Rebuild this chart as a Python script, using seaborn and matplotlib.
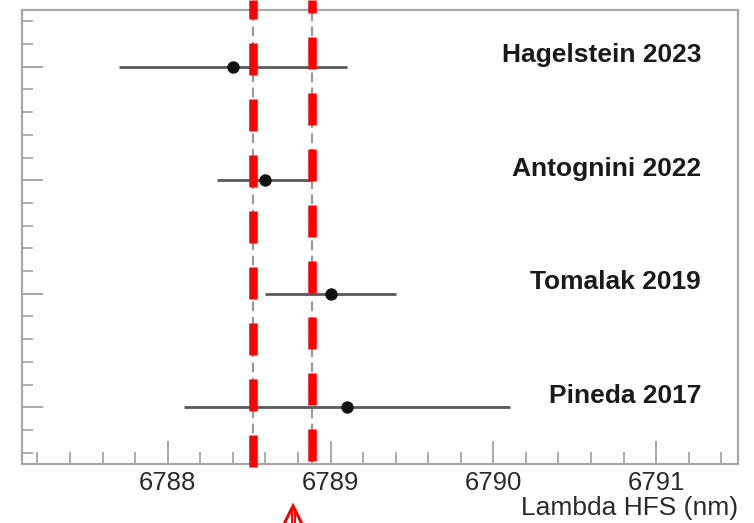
import matplotlib
matplotlib.use("Agg")
import matplotlib.pyplot as plt
from matplotlib.lines import Line2D
from matplotlib.transforms import blended_transform_factory
from matplotlib.ticker import MultipleLocator
import seaborn as sns
import pandas as pd

# ---- data ----
labels = ["Pineda 2017", "Tomalak 2019", "Antognini 2022", "Hagelstein 2023"]
values = [6789.10, 6789.00, 6788.60, 6788.40]
err_lo = [1.00, 0.40, 0.30, 0.70]
err_hi = [1.00, 0.40, 0.28, 0.70]
band_lines = [6788.525, 6788.888]
x_ticks = [6788, 6789, 6790, 6791]
x_label = "Lambda HFS (nm)"

sns.set_theme(style="white")
plt.rcParams['font.family'] = ['Liberation Sans', 'DejaVu Sans']
plt.rcParams['lines.scale_dashes'] = False

W, H = 754, 523
fig = plt.figure(figsize=(W / 100, H / 100), dpi=100)
ax = fig.add_axes([22 / W, 1 - 464 / H, (738 - 22) / W, (464 - 10) / H])

rows = list(range(len(labels)))
df = pd.DataFrame({"label": labels, "value": values, "row": rows,
                   "lo": err_lo, "hi": err_hi})

# error bars
ax.errorbar(df["value"], df["row"], xerr=[df["lo"], df["hi"]], fmt="none",
            ecolor="#5a5a5a", elinewidth=2.0, capsize=0, zorder=2)
# points
sns.scatterplot(data=df, x="value", y="row", ax=ax, color="#111111", s=80,
                edgecolor="#111111", linewidth=0, zorder=3, legend=False)

# gray dashed lines (data)
for b in band_lines:
    ax.axvline(b, color="#9a9a9a", lw=1.6, dashes=(7, 4), zorder=1)

# labels
for r, lab in zip(rows, labels):
    ax.text((701 - 22) / 716, r + 0.1, lab,
            transform=blended_transform_factory(ax.transAxes, ax.transData),
            ha="right", va="center", fontsize=19, fontweight="bold", color="#1a1a1a")

ax.set_xlim(6787.105, 6791.503)
ax.set_ylim(-0.5, 3.5)
ax.set_xticks(x_ticks)
ax.set_xticklabels([str(t) for t in x_ticks])
ax.xaxis.set_minor_locator(MultipleLocator(0.2))
ax.set_yticks(rows)
ax.set_yticklabels([])
ax.yaxis.set_minor_locator(MultipleLocator(0.2))
ax.set_xlabel("")
ax.set_ylabel("")

for sp in ["left", "bottom", "top", "right"]:
    ax.spines[sp].set_visible(True)
    ax.spines[sp].set_color("#a8a8a8")
    ax.spines[sp].set_linewidth(1.6)

ax.tick_params(axis="x", which="major", direction="in", length=16.5, width=1.3,
               color="#a0a0a0", labelsize=18.5, labelcolor="#2a2a2a", pad=5,
               bottom=True, top=False)
ax.tick_params(axis="x", which="minor", direction="in", length=8.5, width=1.2,
               color="#a0a0a0", bottom=True, top=False)
ax.tick_params(axis="y", which="major", direction="in", length=15, width=1.3,
               color="#a0a0a0", left=True, right=False)
ax.tick_params(axis="y", which="minor", direction="in", length=8, width=1.2,
               color="#a0a0a0", left=True, right=False)

fig.text(738 / W, 1 - 508 / H, x_label, ha="right", va="center",
         fontsize=19, color="#2a2a2a")

# red dashed overlay lines (x in data, y in figure)
tr = blended_transform_factory(ax.transData, fig.transFigure)
red_ends = [467, 461]
red_offsets = [13, 19]
for b, yend, off in zip(band_lines, red_ends, red_offsets):
    ln = Line2D([b, b], [1.0, 1 - yend / H], transform=tr, color="#ff0000",
                lw=8.5 * 0.72, solid_capstyle="butt", dash_capstyle="butt")
    ln.set_linestyle((off * 0.72, (32 * 0.72, 24 * 0.72)))
    fig.add_artist(ln)

# red arrow at bottom (chevron head + stem), figure pixel coordinates
def fx(px):
    return px / W

def fy(py):
    return 1 - py / H

fig.add_artist(Line2D([fx(284), fx(293), fx(302)], [fy(524), fy(506), fy(524)],
                      transform=fig.transFigure, color="#ff0000", lw=2.2,
                      solid_joinstyle="miter"))
for sx in (291.5, 294.5):
    fig.add_artist(Line2D([fx(sx), fx(sx)], [fy(509), fy(524)],
                          transform=fig.transFigure, color="#ff0000", lw=1.4))

fig.savefig("out.png", dpi=100)
